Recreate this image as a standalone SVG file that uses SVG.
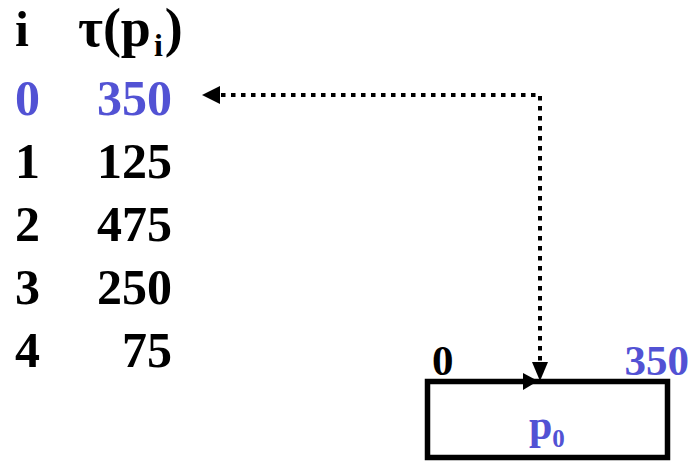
<svg xmlns="http://www.w3.org/2000/svg" width="697" height="463" viewBox="0 0 697 463">
  <style>
    .t { font-family: "Liberation Serif", Tinos, "DejaVu Serif", serif; font-weight: 700; fill: #000; }
    .big { font-size: 50px; }
    .mid { font-size: 43px; }
    .blue { fill: #5252d4; }
    .dots { fill: none; stroke: #000; stroke-width: 4; stroke-dasharray: 4.5 5.5; }
    .head { fill: #000; }
    .box { fill: #fff; stroke: #000; stroke-width: 5.5; }
  </style>
  <rect width="697" height="463" fill="#fff"/>

  <!-- table of start times -->
  <g id="table">
    <text class="t big" x="15" y="46">i</text>
    <text class="t" font-size="54" x="78" y="46">τ(p<tspan font-size="32" dx="3" dy="10">i</tspan><tspan dx="2" dy="-10">)</tspan></text>

    <text class="t big blue" x="15" y="115">0</text>
    <text class="t big blue" x="172" y="115" text-anchor="end">350</text>
    <text class="t big" x="15" y="178">1</text>
    <text class="t big" x="172" y="178" text-anchor="end">125</text>
    <text class="t big" x="15" y="241">2</text>
    <text class="t big" x="172" y="241" text-anchor="end">475</text>
    <text class="t big" x="15" y="304">3</text>
    <text class="t big" x="172" y="304" text-anchor="end">250</text>
    <text class="t big" x="15" y="367">4</text>
    <text class="t big" x="172" y="367" text-anchor="end">75</text>
  </g>

  <!-- processor interval p0 -->
  <g id="p0">
    <rect class="box" x="427.5" y="381.5" width="240" height="76"/>
    <text class="t mid" x="432" y="375">0</text>
    <text class="t mid blue" x="689" y="375" text-anchor="end">350</text>
    <text class="t blue" font-size="42" x="529" y="439">p<tspan font-size="25" dy="8">0</tspan></text>
  </g>

  <!-- connectors -->
  <g id="connectors">
    <path class="dots" d="M221,95 H540 V364"/>
    <polygon class="head" points="202,95 220,86 220,104"/>
    <polygon class="head" points="540,381 532,362 548,362"/>
    <polygon class="head" points="538,381 523,373 523,390"/>
  </g>
</svg>
